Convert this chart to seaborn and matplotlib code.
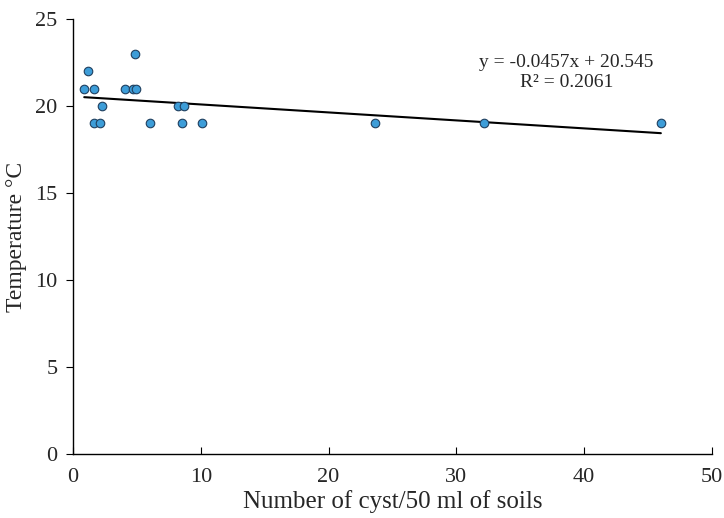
import numpy as np
import pandas as pd
import matplotlib
matplotlib.use("Agg")
import matplotlib.pyplot as plt
import seaborn as sns

# values
cysts = [0.88, 1.17, 1.67, 4.09, 4.67, 4.93, 4.85, 2.25, 8.24, 8.71,
         1.64, 2.11, 6.03, 8.5, 10.07, 23.6, 32.2, 46.0]
temps = [21, 22, 21, 21, 21, 21, 23, 20, 20, 20,
         19, 19, 19, 19, 19, 19, 19, 19]
eq_text = "y = -0.0457x + 20.545"
r2_text = "R² = 0.2061"

df = pd.DataFrame({"cyst": cysts, "temp": temps})

sns.set_style("white")
plt.rcParams["font.family"] = ["Liberation Serif", "DejaVu Serif"]

fig = plt.figure(figsize=(7.24, 5.18), dpi=100)
ax = fig.add_axes([0.1008, 0.1236, 0.8826, 0.8397])

sns.regplot(
    data=df, x="cyst", y="temp", ci=None, ax=ax,
    scatter_kws={"s": 38, "color": "#3d9dd8", "edgecolor": "#1f3f5f",
                 "linewidths": 0.8, "alpha": 1, "zorder": 3},
    line_kws={"color": "black", "linewidth": 1.5, "zorder": 2},
)

ax.set_xlim(0, 50)
ax.set_ylim(0, 25)
ax.set_xticks(range(0, 51, 10))
ax.set_yticks(range(0, 26, 5))
ax.set_xlabel("Number of cyst/50 ml of soils", fontsize=18, labelpad=2)
ax.set_ylabel("Temperature °C", fontsize=17, labelpad=6)
ax.tick_params(axis="x", direction="in", length=5, labelsize=16, pad=10, color="black")
ax.tick_params(axis="y", direction="out", length=5, labelsize=16, pad=6, color="black")
ax.tick_params(left=True, bottom=True)
for side in ["top", "right"]:
    ax.spines[side].set_visible(False)
for side in ["left", "bottom"]:
    ax.spines[side].set_color("black")
    ax.spines[side].set_linewidth(1)

ax.text(38.6, 22.5, eq_text, ha="center", va="center", fontsize=14)
ax.text(38.6, 21.35, r2_text, ha="center", va="center", fontsize=14)

fig.savefig("out.png", dpi=100)
